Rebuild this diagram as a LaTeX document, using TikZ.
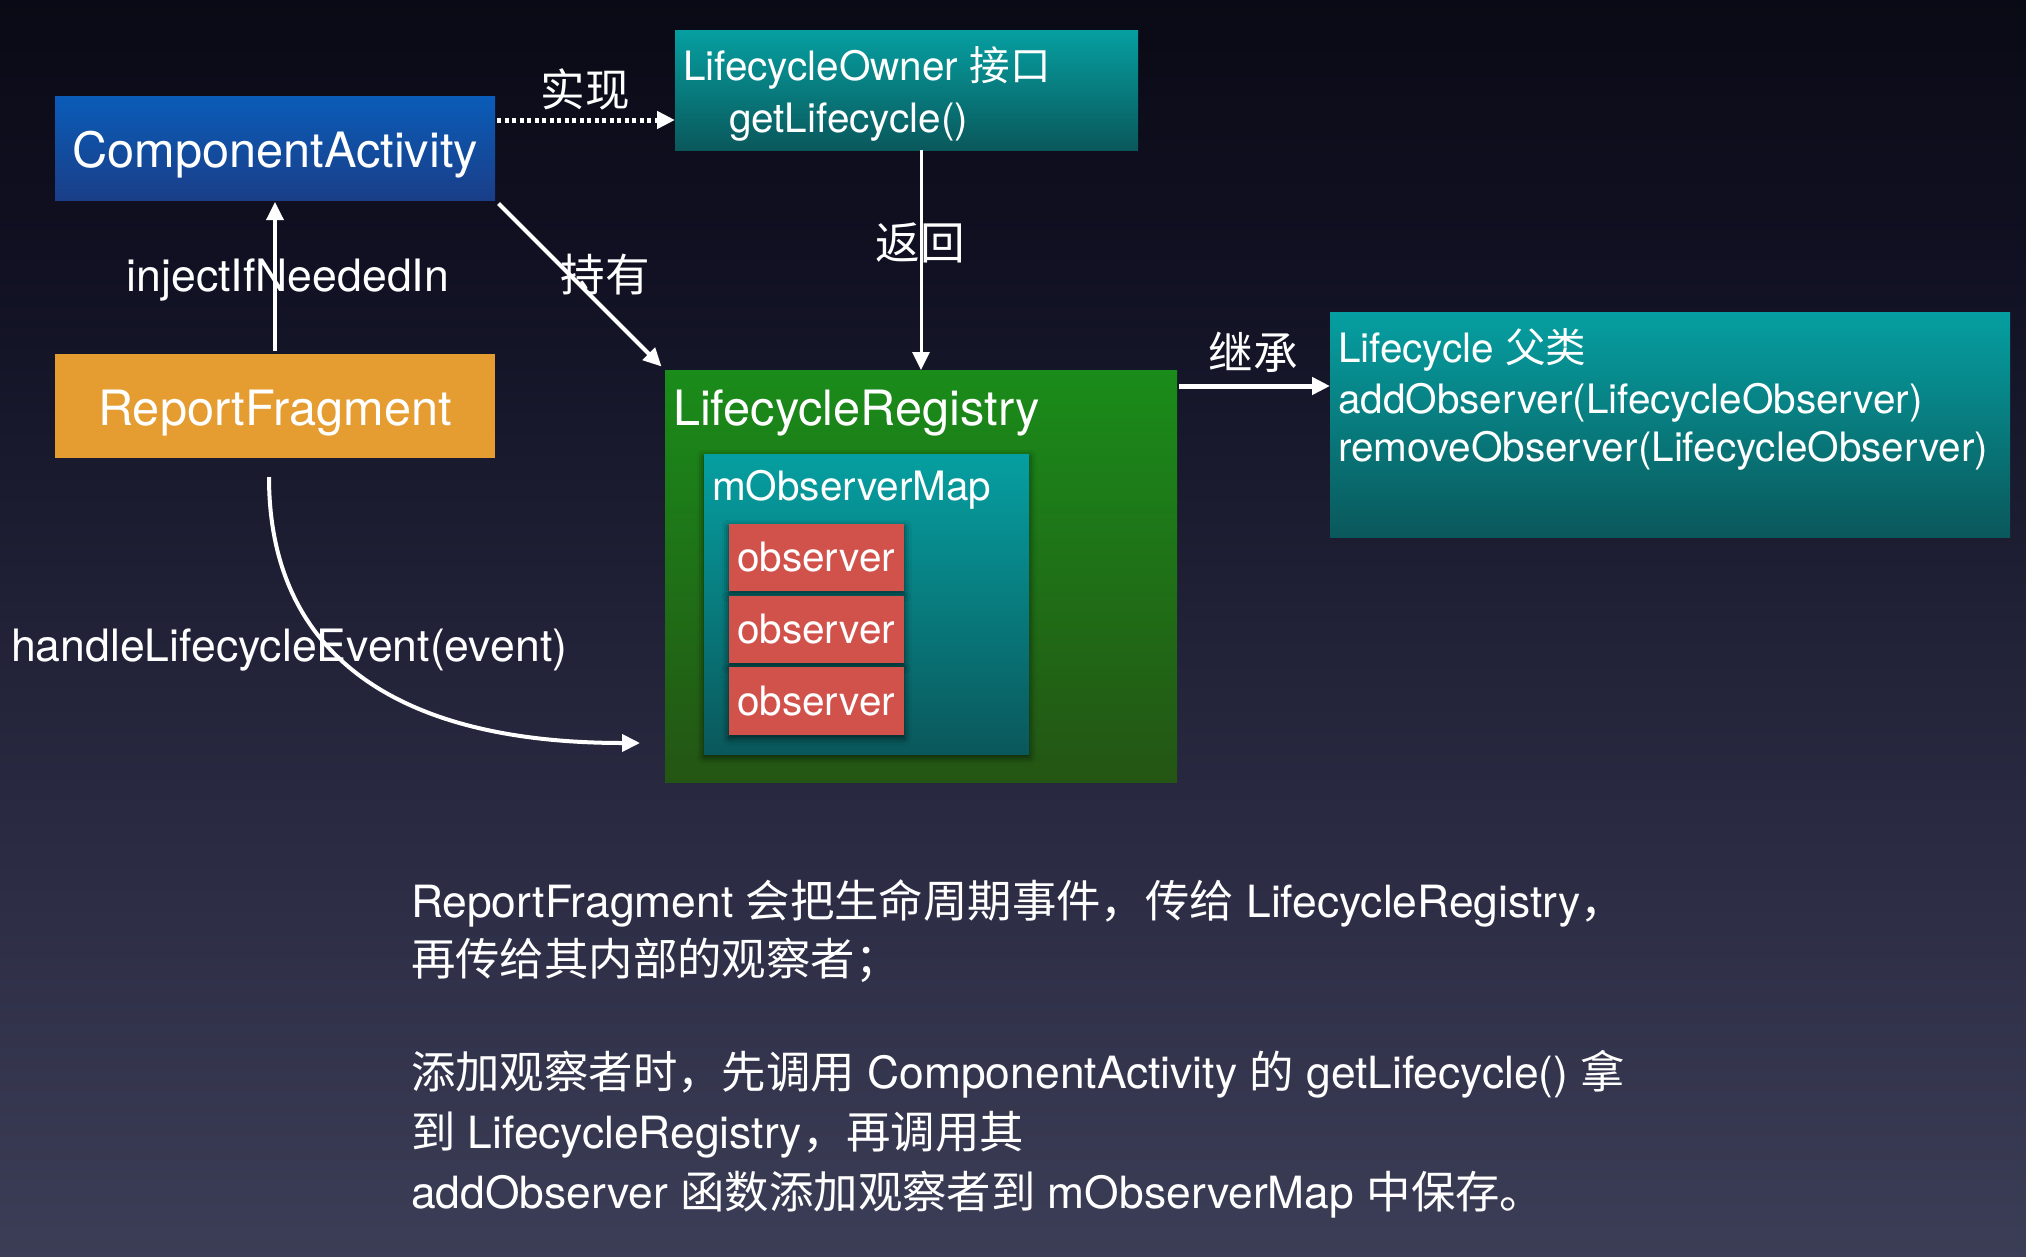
\documentclass[tikz,border=0pt]{standalone}
\usepackage{fontspec}
\setmainfont{TeX Gyre Heros}
\newfontfamily\cjk{Noto Sans CJK SC}
\usetikzlibrary{arrows.meta,shadows.blur}
\newcommand\zh[1]{{\cjk #1}}
\definecolor{bgA}{HTML}{565872}
\definecolor{bgB}{HTML}{2C2D45}
\definecolor{bgC}{HTML}{101022}
\definecolor{bgD}{HTML}{030306}
\definecolor{caTop}{HTML}{0A5CB8}
\definecolor{caBot}{HTML}{1A3E88}
\definecolor{tlTop}{HTML}{069FA1}
\definecolor{tlBot}{HTML}{0A585B}
\definecolor{grTop}{HTML}{1A8C1A}
\definecolor{grBot}{HTML}{245514}
\definecolor{orng}{HTML}{E59D31}
\definecolor{obsred}{HTML}{D0524B}
\pgfdeclareverticalshading{bgshade}{100bp}{color(0bp)=(bgA); color(40bp)=(bgB); color(65bp)=(bgC); color(88bp)=(bgD); color(100bp)=(black)}
\begin{document}
\begin{tikzpicture}[x=1pt,y=-1pt,
  box/.style={inner sep=0pt, outer sep=0pt, anchor=north west},
  txt/.style={text=white, inner sep=0pt, outer sep=0pt},
  big/.style={font=\fontsize{48.7}{58}\selectfont},
  mid/.style={font=\fontsize{40.5}{50}\selectfont},
  lab/.style={font=\fontsize{44.6}{52}\selectfont},
  para/.style={font=\fontsize{44.4}{60}\selectfont},
  arr/.style={draw=white, -{Triangle[length=18pt,width=17pt]}},
  sh/.style={blur shadow={shadow xshift=0pt, shadow yshift=-3pt, shadow blur radius=7pt, shadow opacity=65}}
]
\shade[shading=bgshade] (0,0) rectangle (2026,1256);
\useasboundingbox (0,0) rectangle (2026,1256);

% boxes
\node[box, minimum width=440pt, minimum height=104pt, top color=caTop, bottom color=caBot] (CA) at (55,96) {};
\node[box, minimum width=440pt, minimum height=104pt, fill=orng] (RF) at (55,354) {};
\node[box, minimum width=463pt, minimum height=120pt, top color=tlTop, bottom color=tlBot] (LO) at (675,30) {};
\node[box, minimum width=512pt, minimum height=412pt, top color=grTop, bottom color=grBot] (LR) at (665,370) {};
\node[box, sh, minimum width=325pt, minimum height=300pt, top color=tlTop, bottom color=tlBot] (MOM) at (704,454) {};
\node[box, sh, minimum width=175pt, minimum height=67pt, fill=obsred] (O1) at (729,524) {};
\node[box, sh, minimum width=175pt, minimum height=67pt, fill=obsred] (O2) at (729,596) {};
\node[box, sh, minimum width=175pt, minimum height=68pt, fill=obsred] (O3) at (729,667) {};
\node[box, minimum width=680pt, minimum height=225pt, top color=tlTop, bottom color=tlBot] (LC) at (1330,312) {};

% box texts
\node[txt, big, anchor=base] (tCA) at (275,167) {ComponentActivity};
\node[txt, big, anchor=base] (tRF) at (275,425) {ReportFragment};
\node[txt, mid, anchor=base west] (tLO1) at (683,80) {LifecycleOwner \zh{接口}};
\node[txt, mid, anchor=base west] (tLO2) at (729,132) {getLifecycle()};
\node[txt, big, anchor=base west] (tLR) at (673,425) {LifecycleRegistry};
\node[txt, mid, anchor=base west] (tMOM) at (712,500) {mObserverMap};
\node[txt, mid, anchor=base] (tO1) at (816,571) {observer};
\node[txt, mid, anchor=base] (tO2) at (816,643) {observer};
\node[txt, mid, anchor=base] (tO3) at (816,715) {observer};
\node[txt, mid, anchor=base west] (tLC1) at (1338,362) {Lifecycle \zh{父类}};
\node[txt, mid, anchor=base west] (tLC2) at (1338,413) {addObserver(LifecycleObserver)};
\node[txt, mid, anchor=base west] (tLC3) at (1338,461) {removeObserver(LifecycleObserver)};

% connectors
\draw[arr, line width=5pt, dash pattern=on 4pt off 3.5pt, shorten <=2pt] (CA.east |- 0,120) -- (LO.west |- 0,120);
\draw[arr, line width=3.5pt, shorten <=3pt, shorten >=2pt] (RF.north) -- (CA.south);
\draw[arr, line width=4pt, shorten <=5pt, shorten >=5pt] (CA.south east) -- (LR.north west);
\draw[arr, line width=3pt] (LO.south -| LR.north) -- (LR.north);
\draw[arr, line width=5pt, shorten <=2pt] (LR.east |- 0,386) -- (LC.west |- 0,386);
\coordinate (hs) at (269,477);
\coordinate (he) at (640,743);
\draw[arr, line width=4pt] (hs) .. controls (269,650) and (390,743) .. (he);

% connector labels
\node[txt, lab, anchor=center] (lImpl) at (585,89) {\zh{实现}};
\node[txt, lab, anchor=base] (lInj) at (288,291) {injectIfNeededIn};
\node[txt, lab, anchor=center] (lHold) at (605,275) {\zh{持有}};
\node[txt, lab, anchor=center] (lRet) at (920,243) {\zh{返回}};
\node[txt, lab, anchor=center] (lInh) at (1253,352) {\zh{继承}};
\node[txt, lab, anchor=base west] (lHandle) at (11,661) {handleLifecycleEvent(event)};

% paragraph
\node[txt, para, anchor=base west] (p1) at (411,917) {ReportFragment \zh{会把生命周期事件，传给} LifecycleRegistry\zh{，}};
\node[txt, para, anchor=base west] (p2) at (411,975) {\zh{再传给其内部的观察者；}};
\node[txt, para, anchor=base west] (p3) at (411,1088) {\zh{添加观察者时，先调用} ComponentActivity \zh{的} getLifecycle() \zh{拿}};
\node[txt, para, anchor=base west] (p4) at (411,1148) {\zh{到} LifecycleRegistry\zh{，再调用其}};
\node[txt, para, anchor=base west] (p5) at (411,1208) {addObserver \zh{函数添加观察者到} mObserverMap \zh{中保存。}};
\end{tikzpicture}
\end{document}
